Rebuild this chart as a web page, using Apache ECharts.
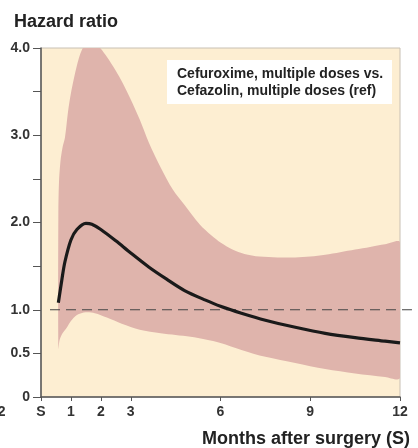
<!DOCTYPE html>
<html>
<head>
<meta charset="utf-8">
<script src="https://cdn.jsdelivr.net/npm/echarts@6/dist/echarts.min.js"></script>
<style>
  html, body { margin: 0; padding: 0; background: #fff; }
  #box { width: 418px; height: 448px; }
</style>
</head>
<body>
<div id="box"></div>
<script>
// months after surgery for the hazard ratio curve
var hrMonths = [0.58, 0.7, 0.8, 1.0, 1.2, 1.5, 1.7, 2.0, 2.5, 3.0, 3.6, 4.2, 4.8, 5.5, 6.0, 6.7, 7.5, 8.5, 9.5, 10.5, 11.5, 12];
var hrValues = [1.08, 1.35, 1.55, 1.8, 1.92, 1.99, 1.98, 1.92, 1.79, 1.65, 1.49, 1.35, 1.22, 1.11, 1.04, 0.96, 0.88, 0.80, 0.73, 0.68, 0.64, 0.62];

// upper bound of the confidence band
var upperMonths = [0.58, 0.6, 0.65, 0.72, 0.8, 0.9, 1.0, 1.1, 1.2, 1.3, 1.4, 1.55, 1.7, 1.85, 2.0, 2.2, 2.5, 2.73, 3.0, 3.3, 3.6, 4.0, 4.4, 4.8, 5.3, 5.7, 6.0, 6.4, 6.8, 7.3, 7.9, 8.5, 9.0, 9.5, 10.0, 10.5, 11.0, 11.5, 12];
var upperCI = [2.1, 2.45, 2.7, 2.86, 2.97, 3.26, 3.48, 3.65, 3.8, 3.92, 4.0, 4.07, 4.08, 4.05, 3.99, 3.9, 3.74, 3.6, 3.41, 3.18, 2.92, 2.63, 2.38, 2.2, 1.98, 1.85, 1.77, 1.69, 1.64, 1.61, 1.6, 1.6, 1.61, 1.63, 1.66, 1.69, 1.72, 1.75, 1.77];

// lower bound of the confidence band
var lowerMonths = [0.58, 0.62, 0.7, 0.87, 1.0, 1.2, 1.5, 1.8, 2.2, 2.7, 3.3, 4.0, 4.5, 5.0, 5.5, 6.0, 6.7, 7.5, 8.5, 9.5, 10.5, 11.5, 12];
var lowerCI = [0.55, 0.65, 0.72, 0.8, 0.87, 0.94, 0.97, 0.96, 0.91, 0.84, 0.77, 0.73, 0.71, 0.69, 0.66, 0.62, 0.54, 0.46, 0.39, 0.32, 0.27, 0.23, 0.22];

var xTicks = [0, 1, 2, 3, 6, 9, 12];
var yLabels = {'0': '0', '0.5': '0.5', '1': '1.0', '2': '2.0', '3': '3.0', '4': '4.0'};
var refLine = [[0.3, 1], [12.4, 1]];

var FONT = '"Liberation Sans", Arial, sans-serif';

var hrData = [];
for (var i = 0; i < hrMonths.length; i++) {
	hrData.push([hrMonths[i], hrValues[i]]);
}

var mychart = echarts.init(document.getElementById('box'), null, {renderer: 'canvas'});
var option = {
	animation: false,
	backgroundColor: '#fff',
	textStyle: {fontFamily: FONT},
	grid: {
		left: 41, right: 18, top: 48, bottom: 51,
		show: true,
		backgroundColor: '#FDEED2',
		borderColor: '#c8c0b4',
		borderWidth: 1
	},
	xAxis: {
		type: 'value',
		min: 0, max: 12,
		splitLine: {show: false},
		axisLine: {lineStyle: {color: '#555', width: 1.5}},
		axisTick: {customValues: xTicks, length: 4, lineStyle: {color: '#555'}},
		axisLabel: {
			customValues: xTicks,
			margin: 8,
			color: '#333',
			fontSize: 14,
			fontWeight: 'bold',
			fontFamily: FONT,
			formatter: function (v) { return v === 0 ? 'S' : String(v); }
		}
	},
	yAxis: {
		type: 'value',
		min: 0, max: 4, interval: 0.5,
		splitLine: {show: false},
		axisLine: {show: true, lineStyle: {color: '#555', width: 1.5}},
		axisTick: {show: true, length: 8, lineStyle: {color: '#555'}},
		axisLabel: {
			margin: 11,
			color: '#333',
			fontSize: 14,
			fontWeight: 'bold',
			fontFamily: FONT,
			formatter: function (v) { return yLabels[String(v)] || ''; }
		}
	},
	graphic: [
		{type: 'text', left: 14, top: 13, style: {text: 'Hazard ratio', fill: '#222', font: 'bold 18px ' + FONT}},
		{type: 'text', right: 8, top: 430, style: {text: 'Months after surgery (S)', fill: '#222', font: 'bold 18px ' + FONT}},
		{type: 'text', x: -10, y: 405, style: {text: '12', fill: '#333', font: 'bold 14px ' + FONT}},
		{type: 'text', x: -24, y: 430, style: {text: '(S)', fill: '#222', font: 'bold 18px ' + FONT}},
		{
			type: 'group', left: 167, top: 60,
			children: [
				{type: 'rect', shape: {x: 0, y: 0, width: 225, height: 44}, style: {fill: '#fff'}},
				{type: 'text', x: 10, y: 6, style: {text: 'Cefuroxime, multiple doses vs.\nCefazolin, multiple doses (ref)', fill: '#222', font: 'bold 14px ' + FONT, lineHeight: 17}}
			]
		}
	],
	series: [
		{
			name: 'CI',
			type: 'custom',
			z: 1,
			data: [[0, 0]],
			renderItem: function (params, api) {
				if (params.dataIndex !== 0) return;
				var pts = [];
				for (var i = 0; i < upperMonths.length; i++) pts.push(api.coord([upperMonths[i], upperCI[i]]));
				for (var j = lowerMonths.length - 1; j >= 0; j--) pts.push(api.coord([lowerMonths[j], lowerCI[j]]));
				var cs = params.coordSys;
				return {
					type: 'polygon',
					shape: {points: pts, smooth: 0.3},
					style: {fill: '#DFB4AC'},
					clipPath: {type: 'rect', shape: {x: cs.x, y: cs.y, width: cs.width, height: cs.height}}
				};
			}
		},
		{
			name: 'ref',
			type: 'custom',
			z: 2,
			data: [[1, 1]],
			renderItem: function (params, api) {
				var a = api.coord(refLine[0]);
				var b = api.coord(refLine[1]);
				return {
					type: 'line',
					shape: {x1: a[0], y1: a[1], x2: b[0], y2: b[1]},
					style: {stroke: '#444', lineWidth: 1.2, lineDash: [10, 6]}
				};
			}
		},
		{
			name: 'HR',
			type: 'line',
			z: 3,
			smooth: 0.3,
			showSymbol: false,
			data: hrData,
			lineStyle: {color: '#1a1a1a', width: 3.2, cap: 'butt'}
		}
	]
};
mychart.setOption(option);
</script>
</body>
</html>
